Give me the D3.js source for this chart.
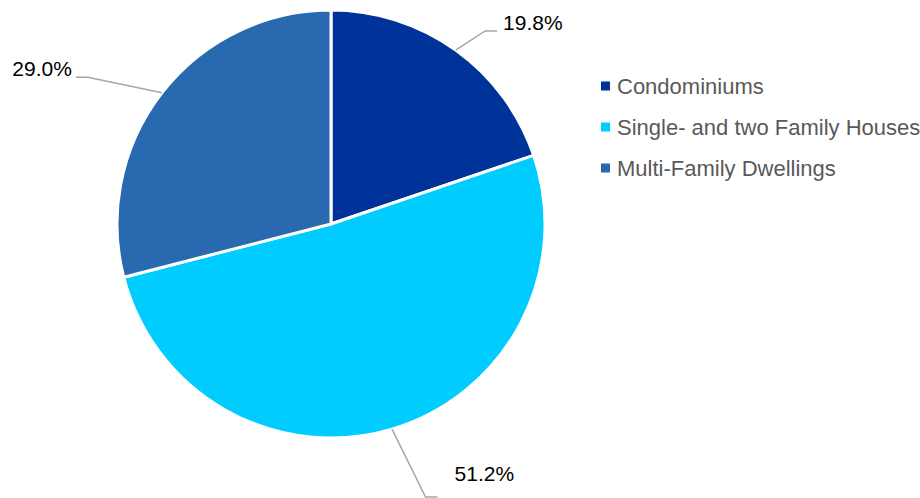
<!DOCTYPE html>
<html>
<head>
<meta charset="utf-8">
<script src="https://cdn.jsdelivr.net/npm/d3@7"></script>
<style>
  body { margin: 0; background: #fff; }
  svg { font-family: "Liberation Sans", Arial, sans-serif; }
</style>
</head>
<body>
<div id="chart"></div>
<script>
const WIDTH = 920;
const HEIGHT = 498;
const CENTER = { X: 331, Y: 224 };
const RADIUS = 214;

// data
const categories = ['Condominiums', 'Single- and two Family Houses', 'Multi-Family Dwellings'];
const shares = [19.8, 51.2, 29.0];
const colors = ['#003399', '#00CCFF', '#2869B0'];

// leader elbow (radius, angle in degrees from 12 o'clock) and which side the label sits
const elbowRadius = [247, 289, 284];
const elbowAngle = [38.6, 160.9, 301.1];
const labelSide = ['right', 'right', 'left'];

const svg = d3.select('#chart')
  .append('svg')
    .attr('width', WIDTH)
    .attr('height', HEIGHT);

const pie = d3.pie()
  .sort(null)
  .value(d => d.value);

const arcs = pie(categories.map((c, i) => ({ name: c, value: shares[i], i: i })));

const arc = d3.arc()
  .innerRadius(0)
  .outerRadius(RADIUS);

const g = svg.append('g')
  .attr('transform', `translate(${CENTER.X}, ${CENTER.Y})`);

g.selectAll('path.slice')
  .data(arcs)
  .enter()
  .append('path')
    .attr('class', 'slice')
    .attr('d', arc)
    .attr('fill', d => colors[d.data.i])
    .attr('stroke', '#fff')
    .attr('stroke-width', 3)
    .attr('stroke-linejoin', 'round');

const polar = (r, deg) => {
  const a = deg * Math.PI / 180;
  return [r * Math.sin(a), -r * Math.cos(a)];
};

// leader lines + labels
arcs.forEach(d => {
  const i = d.data.i;
  const mid = (d.startAngle + d.endAngle) / 2;
  const p0 = [RADIUS * Math.sin(mid), -RADIUS * Math.cos(mid)];
  const p1 = polar(elbowRadius[i], elbowAngle[i]);
  const dir = labelSide[i] === 'right' ? 1 : -1;
  const p2 = [p1[0] + dir * 12, p1[1]];

  g.append('polyline')
    .attr('points', [p0, p1, p2].map(p => p.join(',')).join(' '))
    .attr('fill', 'none')
    .attr('stroke', '#a6a6a6')
    .attr('stroke-width', 1.5);

  const ty = i === 1 ? p1[1] - 16 : p1[1] - 1;
  g.append('text')
    .attr('x', dir > 0 ? (i === 1 ? p2[0] + 17 : p2[0] + 6) : p2[0] - 4)
    .attr('y', ty)
    .attr('text-anchor', dir > 0 ? 'start' : 'end')
    .style('font-size', '21px')
    .style('fill', '#000')
    .text(d3.format('.1f')(d.data.value) + '%');
});

// legend
const legend = svg.append('g')
  .attr('transform', 'translate(601, 86)');

const rows = legend.selectAll('g')
  .data(categories)
  .enter()
  .append('g')
    .attr('transform', (_, i) => `translate(0, ${i * 41})`);

rows.append('rect')
  .attr('x', 0)
  .attr('y', -4.5)
  .attr('width', 9)
  .attr('height', 9)
  .attr('fill', (_, i) => colors[i]);

rows.append('text')
  .attr('x', 16)
  .attr('y', 7.5)
  .style('font-size', '22px')
  .style('fill', '#595959')
  .text(d => d);
</script>
</body>
</html>
